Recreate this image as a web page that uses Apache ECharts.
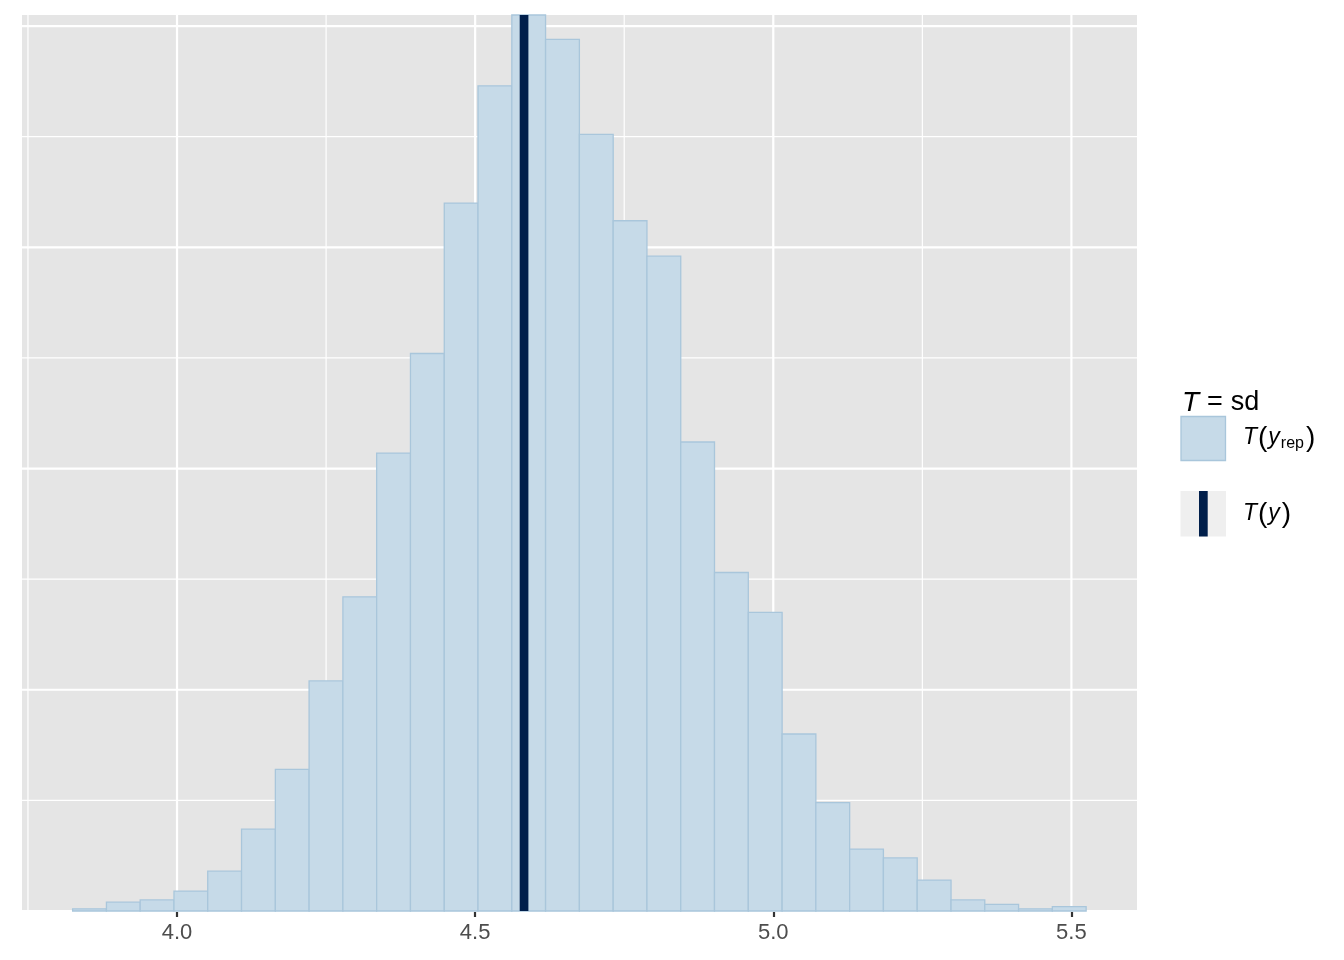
<!DOCTYPE html>
<html>
<head>
<meta charset="utf-8">
<script src="https://cdn.jsdelivr.net/npm/echarts@6/dist/echarts.min.js"></script>
<style>
html,body{margin:0;padding:0;background:#fff;}
#chart{width:1344px;height:960px;}
</style>
</head>
<body>
<div id="chart"></div>
<script>
// Histogram bin edges (31 edges -> 30 bins) of T(y_rep) = sd
const binEdges = [3.8249, 3.8816, 3.9382, 3.9949, 4.0515, 4.1082, 4.1649, 4.2215, 4.2782, 4.3348,
  4.3915, 4.4482, 4.5048, 4.5615, 4.6181, 4.6748, 4.7315, 4.7881, 4.8448, 4.9014,
  4.9581, 5.0148, 5.0714, 5.1281, 5.1847, 5.2414, 5.2981, 5.3547, 5.4114, 5.4680, 5.5247];
// Counts per bin (4000 draws)
const binCounts = [1, 4, 5, 9, 18, 37, 64, 104, 142, 207,
  252, 320, 373, 405, 394, 351, 312, 296, 212, 153,
  135, 80, 49, 28, 24, 14, 5, 3, 1, 2];
// Observed statistic T(y)
const observedT = [4.582];
// Axis ticks / grid values
const xTickValues = [4.0, 4.5, 5.0, 5.5];
const xMinorValues = [3.75, 4.25, 4.75, 5.25];
const yMajorValues = [0, 100, 200, 300, 400];
const yMinorValues = [50, 150, 250, 350];
const xRange = [3.74, 5.61];
const yRange = [0, 405];

const histData = binCounts.map((c, i) => [binEdges[i], binEdges[i + 1], c]);

const FONT = 'Liberation Sans, Arial, Helvetica, sans-serif';

function vGrid(width) {
  return function (params, api) {
    const cs = params.coordSys;
    const x = api.coord([api.value(0), 0])[0];
    return {type: 'line', shape: {x1: x, y1: cs.y, x2: x, y2: cs.y + cs.height},
      style: {stroke: '#ffffff', lineWidth: width}, silent: true};
  };
}
function hGrid(width) {
  return function (params, api) {
    const cs = params.coordSys;
    const y = api.coord([xRange[0], api.value(1)])[1];
    return {type: 'line', shape: {x1: cs.x, y1: y, x2: cs.x + cs.width, y2: y},
      style: {stroke: '#ffffff', lineWidth: width}, silent: true};
  };
}

const chart = echarts.init(document.getElementById('chart'), null, {renderer: 'canvas'});
chart.setOption({
  animation: false,
  backgroundColor: '#ffffff',
  grid: {left: 22, right: 207, top: 15, bottom: 49, show: true, backgroundColor: '#e5e5e5', borderWidth: 0},
  xAxis: {
    type: 'value', min: xRange[0], max: xRange[1],
    axisLine: {show: false},
    axisTick: {show: true, customValues: xTickValues, length: 6, lineStyle: {color: '#333333', width: 2.2}},
    axisLabel: {show: true, customValues: xTickValues, formatter: v => v.toFixed(1),
      color: '#4d4d4d', fontSize: 22, fontFamily: FONT, margin: 11},
    splitLine: {show: false}
  },
  yAxis: {
    type: 'value', min: yRange[0], max: yRange[1],
    axisLine: {show: false}, axisTick: {show: false}, axisLabel: {show: false}, splitLine: {show: false}
  },
  series: [
    {type: 'custom', z: 1, silent: true, data: yMinorValues.map(v => [xRange[0], v]), renderItem: hGrid(1.2)},
    {type: 'custom', z: 1, silent: true, data: xMinorValues.map(v => [v, 0]), renderItem: vGrid(1.2)},
    {type: 'custom', z: 1, silent: true, data: yMajorValues.map(v => [xRange[0], v]), renderItem: hGrid(2.2)},
    {type: 'custom', z: 1, silent: true, data: xTickValues.map(v => [v, 0]), renderItem: vGrid(2.2)},
    {
      type: 'custom', z: 2, silent: true,
      data: histData,
      encode: {x: [0, 1], y: 2},
      renderItem: function (params, api) {
        const p0 = api.coord([api.value(0), 0]);
        const p1 = api.coord([api.value(1), api.value(2)]);
        return {type: 'rect', shape: {x: p0[0], y: p1[1], width: p1[0] - p0[0], height: p0[1] - p1[1]},
          style: {fill: '#c6dae8', stroke: '#a9c6db', lineWidth: 1.3}};
      }
    },
    {
      type: 'custom', z: 3, silent: true,
      data: observedT.map(v => [v, 0]),
      renderItem: function (params, api) {
        const cs = params.coordSys;
        const x = api.coord([api.value(0), 0])[0];
        return {type: 'line', shape: {x1: x, y1: cs.y, x2: x, y2: cs.y + cs.height},
          style: {stroke: '#011f4b', lineWidth: 8.7}};
      }
    }
  ],
  graphic: [
    {type: 'text', x: 1182, y: 403, style: {
      text: '{i|T}{e|=}{n|sd}', verticalAlign: 'middle', fontSize: 27, fontFamily: FONT, fill: '#000',
      rich: {
        i: {fontStyle: 'italic', fontSize: 28, fontFamily: FONT, fill: '#000'},
        e: {fontSize: 27, fontFamily: FONT, fill: '#000', padding: [0, 8, 0, 8]},
        n: {fontSize: 27, fontFamily: FONT, fill: '#000'}
      }}},
    {type: 'rect', shape: {x: 1181, y: 416.5, width: 44.5, height: 44}, style: {fill: '#c6dae8', stroke: '#a9c6db', lineWidth: 1.3}},
    {type: 'rect', shape: {x: 1180.5, y: 491, width: 45.5, height: 45.5}, style: {fill: '#efefef'}},
    {type: 'rect', shape: {x: 1199, y: 491, width: 8.7, height: 45.5}, style: {fill: '#011f4b'}},
    {type: 'text', x: 1243, y: 438, style: {
      text: '{i|T}{p|(}{i|y}{s|rep}{q|)}', verticalAlign: 'middle', fontSize: 23, fontFamily: FONT, fill: '#000',
      rich: {
        i: {fontStyle: 'italic', fontSize: 23, fontFamily: FONT, fill: '#000'},
        p: {fontSize: 28, fontFamily: FONT, fill: '#000', padding: [0, 1, 0, 1]},
        q: {fontSize: 28, fontFamily: FONT, fill: '#000', padding: [0, 0, 0, 2]},
        s: {fontSize: 16, fontFamily: FONT, fill: '#000', padding: [12, 0, 0, 1]}
      }}},
    {type: 'text', x: 1243, y: 514, style: {
      text: '{i|T}{p|(}{i|y}{q|)}', verticalAlign: 'middle', fontSize: 23, fontFamily: FONT, fill: '#000',
      rich: {
        i: {fontStyle: 'italic', fontSize: 23, fontFamily: FONT, fill: '#000'},
        p: {fontSize: 28, fontFamily: FONT, fill: '#000', padding: [0, 1, 0, 1]},
        q: {fontSize: 28, fontFamily: FONT, fill: '#000', padding: [0, 0, 0, 2]}
      }}}
  ]
});
</script>
</body>
</html>
